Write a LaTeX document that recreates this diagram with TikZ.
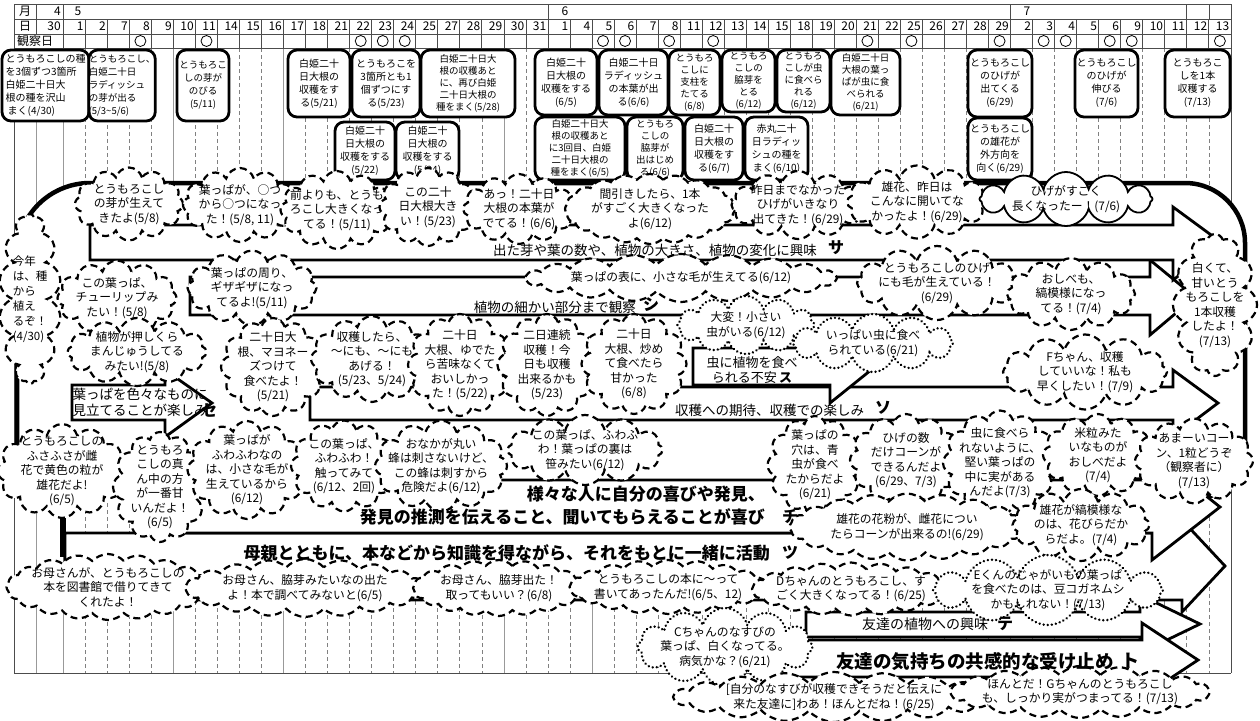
\documentclass[tikz,border=0pt]{standalone}
\usepackage{fontspec}
\setmainfont{Noto Sans CJK JP}
\usetikzlibrary{shapes.symbols}
\newcommand\mkcloud[7][cl]{\node[#1, minimum width={#5+10}, minimum height={#6+8}] (#2) at (#3,#4) {};\node[ctext] (#2t) at (#3,#4) {#7};}
\newcommand\mkbox[7][]{\node[hbox,#1, minimum width={#5-#3}, minimum height={#6-#4}] (#2) at ({(#3+#5)/2},{(#4+#6)/2}) {#7};}
\begin{document}
\begin{tikzpicture}[x=1pt,y=-1pt,
  hbox/.style={draw, line width=2.8pt, rounded corners=9pt, fill=white, inner sep=0pt, align=center, font=\fontsize{10}{13}\selectfont},
  small/.style={font=\fontsize{9.5}{12}\selectfont},
  cl/.style={cloud, cloud puffs=12, cloud ignores aspect, draw, fill=white, line width=2.2pt, dash pattern=on 7pt off 4.5pt, inner sep=0pt},
  wcl/.style={cl, cloud puffs=20, cloud puff arc=95},
  dotcl/.style={cl, dash pattern=on 0.1pt off 4pt, line cap=round, line width=2.6pt},
  solidcl/.style={cl, solid, line width=1.8pt},
  ctext/.style={align=center, inner sep=0pt, font=\fontsize{11.8}{14.5}\selectfont},
  arr/.style={draw, fill=white, line width=2.8pt, line join=miter},
  lab/.style={inner sep=0pt, font=\fontsize{13.5}{16}\selectfont},
  sym/.style={inner sep=0pt, font=\fontsize{16}{16}\selectfont\bfseries},
  blab/.style={inner sep=0pt, font=\fontsize{17}{24}\selectfont\bfseries},
  hd/.style={inner sep=0pt, font=\fontsize{12}{12}\selectfont},
  gridd/.style={black!50, line width=0.7pt, dash pattern=on 4pt off 3pt},
  grids/.style={black!40, line width=0.7pt},
  frame/.style={line width=4.5pt}
  ]
\useasboundingbox (0,0) rectangle (1260,720);
\fill[white] (0,0) rectangle (1260,720);
% ---------- table grid ----------
\foreach \k in {1,...,52}{\pgfmathsetmacro\xx{63.3+22.03*\k}\draw[gridd] (\xx,48) -- (\xx,673);}
\foreach \k in {0,5,10,20,24}{\pgfmathsetmacro\xx{63.3+22.03*\k}\draw[grids] (\xx,48) -- (\xx,673);}
\draw[grids] (36,48) -- (36,673);
\draw[black!70, line width=0.8pt] (14,4) -- (1231,4) (14,19) -- (1231,19) (14,34) -- (1231,34) (14,48) -- (1231,48) (14,673) -- (1231,673)
  (14,4) -- (14,673) (1231,4) -- (1231,673) (36,4) -- (36,34) (63.3,4) -- (63.3,48) (548,4) -- (548,19) (1010.6,4) -- (1010.6,19)
  (1186.8,4) -- (1186.8,19) (1208.9,4) -- (1208.9,19);
\foreach \k in {0,...,52}{\pgfmathsetmacro\xx{63.3+22.03*\k}\draw[black!70, line width=0.8pt] (\xx,19) -- (\xx,48);}
\node[hd] (m0) at (25,11.5) {月};
\node[hd, anchor=east] (m4) at (61,11.5) {4};
\node[hd] (m5) at (78,11.5) {5};
\node[hd] (m6) at (565,11.5) {6};
\node[hd] (m7) at (1027,11.5) {7};
\node[hd] (d0) at (25,26.5) {日};
\node[hd, anchor=east] (d30) at (61,26.5) {30};
\node[hd, anchor=west] (obs) at (17,41) {観察日};
\foreach \d [count=\i from 0] in {1,2,7,8,9,10,11,14,15,16,17,18,21,22,23,24,25,27,28,29,30,31,1,4,5,6,7,8,11,12,13,14,15,18,19,20,21,22,25,26,27,28,29,2,3,4,5,6,9,10,11,12,13}
  {\node[hd, anchor=east] (day\i) at ({63.3+22.03*(\i+1)-1.5},26.5) {\d};}
\foreach \k in {3,6,13,14,15,24,25,27,29,36,38,42,44,45,47,48,52}
  {\draw[line width=0.8pt] ({63.3+22.03*(\k+0.5)},41) circle[radius=5.5];}
% ---------- header boxes ----------
\mkbox[align=left]{b1}{2}{50}{89}{121}{とうもろこしの種\\を3個ずつ3箇所\\白姫二十日大\\根の種を沢山\\\ まく(4/30)}
\mkbox[align=left,font=\fontsize{9.5}{13}\selectfont]{b2}{89}{50}{155}{121}{とうもろこし、\\白姫二十日\\ラディッシュ\\の芽が出る\\(5/3\textasciitilde5/6)}
\mkbox[font=\fontsize{9.5}{13}\selectfont]{b3}{177}{50}{229}{121}{とうもろこ\\しの芽が\\のびる\\(5/11)}
\mkbox{b4}{288}{50}{350}{117}{白姫二十\\日大根の\\収穫をす\\る(5/21)}
\mkbox{b5}{352}{50}{420}{117}{とうもろこを\\3箇所とも1\\個ずつにす\\る(5/23)}
\mkbox[small]{b6}{421}{50}{515}{117}{白姫二十日大\\根の収穫あと\\に、再び白姫\\二十日大根の\\種をまく(5/28)}
\mkbox{b7}{335}{122}{395}{180}{白姫二十\\日大根の\\収穫をする\\(5/22)}
\mkbox{b8}{396}{122}{459}{180}{白姫二十\\日大根の\\収穫をする\\(5/24)}
\mkbox{b9}{535}{50}{597}{115}{白姫二十\\日大根の\\収穫をする\\(6/5)}
\mkbox{b10}{599}{50}{668}{115}{白姫二十日\\ラディッシュ\\の本葉が出\\る(6/6)}
\mkbox[small]{b11}{669}{50}{720}{115}{とうもろ\\こしに\\支柱を\\たてる\\(6/8)}
\mkbox[small]{b12}{722}{50}{775}{112}{とうもろ\\こしの\\脇芽を\\とる\\(6/12)}
\mkbox[small]{b13}{777}{50}{830}{112}{とうもろ\\こしが虫\\に食べら\\れる\\(6/12)}
\mkbox[small]{b14}{831}{50}{900}{115}{白姫二十日\\大根の葉っ\\ぱが虫に食\\べられる\\(6/21)}
\mkbox{b15}{968}{50}{1032}{117}{とうもろこし\\のひげが\\出てくる\\(6/29)}
\mkbox{b16}{1075}{50}{1138}{117}{とうもろこし\\のひげが\\伸びる\\(7/6)}
\mkbox{b17}{1165}{50}{1230}{117}{とうもろこ\\しを1本\\収穫する\\(7/13)}
\mkbox[small]{b18}{535}{117}{625}{180}{白姫二十日大\\根の収穫あと\\に3回目、白姫\\二十日大根の\\種をまく(6/5)}
\mkbox[small]{b19}{627}{117}{683}{180}{とうもろ\\こしの\\脇芽が\\出はじめ\\る(6/6)}
\mkbox{b20}{685}{117}{743}{180}{白姫二十\\日大根の\\収穫をす\\る(6/7)}
\mkbox{b21}{745}{117}{808}{180}{赤丸二十\\日ラディッ\\シュの種を\\まく(6/10)}
\mkbox{b22}{968}{118}{1032}{180}{とうもろこし\\の雄花が\\外方向を\\向く(6/29)}
% ---------- big frame ----------
\fill[white] (17,500) [rounded corners=73pt] -- (17,183) [rounded corners=60pt] -- (1245,183) [rounded corners=55pt] -- (1245,500) [sharp corners] -- cycle;
\draw[frame] (17,470) [rounded corners=73pt] -- (17,183) [rounded corners=60pt] -- (1245,183) [rounded corners=55pt] -- (1245,500) [sharp corners] -- (1195,500);
% ---------- arrows ----------
\draw[arr] (190,277) -- (1150,277) -- (1150,260) -- (1195,297) -- (1150,335) -- (1150,315) -- (190,315) -- cycle;
\draw[arr] (90,225) -- (1173,225) -- (1173,207) -- (1222,243) -- (1173,280) -- (1173,260) -- (90,260) -- cycle;
\draw[arr] (310,387) -- (1173,387) -- (1173,370) -- (1218,403) -- (1173,437) -- (1173,420) -- (310,420) -- cycle;
\draw[arr] (693,348) -- (830,348) -- (830,330) -- (876,366) -- (830,403) -- (830,385) -- (693,385) -- cycle;
\draw[arr] (72,385) -- (165,385) -- (165,370) -- (212,403) -- (165,437) -- (165,420) -- (72,420) -- cycle;
\draw[arr] (65,533) -- (1182,533) -- (1182,520) -- (1225,566) -- (1182,612) -- (1182,600) -- (65,600) -- cycle;
\draw[arr] (173,480) -- (1152,480) -- (1152,453) -- (1220,507) -- (1152,560) -- (1152,533) -- (173,533) -- cycle;
\draw[arr] (806,612) -- (1140,612) -- (1140,595) -- (1200,624) -- (1140,653) -- (1140,637) -- (806,637) -- cycle;
\draw[arr] (780,640) -- (1142,640) -- (1142,623) -- (1198,660) -- (1142,697) -- (1142,677) -- (780,677) -- cycle;
\draw[line width=6pt] (63,518) -- (63,557);
% ---------- clouds row A ----------
\mkcloud{a1}{129}{204}{98}{65}{とうもろこし\\の芽が生えて\\きたよ(5/8)}
\mkcloud{a2}{240}{205}{104}{66}{葉っぱが、○つ\\から○つになっ\\た！(5/8, 11)}
\mkcloud{a3}{337}{210}{103}{70}{前よりも、とうも\\ろこし大きくなっ\\てる！(5/11)}
\mkcloud{a4}{428}{207}{87}{70}{この二十\\日大根大き\\い！(5/23)}
\mkcloud{a5}{519}{209}{102}{62}{あっ！二十日\\大根の本葉が\\でてる！(6/6)}
\mkcloud[wcl]{a6}{650}{209}{160}{62}{間引きしたら、1本\\がすごく大きくなった\\よ(6/12)}
\mkcloud{a7}{798}{205}{123}{60}{昨日までなかった\\ひげがいきなり\\出てきた！(6/29)}
\mkcloud{a8}{917}{202}{130}{65}{雄花、昨日は\\こんなに開いてな\\かったよ！(6/29)}
\mkcloud[solidcl]{a9}{1066}{199}{163}{46}{ひげがすごく\\長くなったー！(7/6)}
% ---------- side clouds ----------
\node[cl, minimum width=62, minimum height=170, cloud puffs=14] (l1) at (30,299) {};
\node[ctext, align=left, font=\fontsize{11.5}{15}\selectfont] (l1t) at (30,299) {今年\\は、種\\から\\植え\\るぞ！\\(4/30)};
\mkcloud{r1}{1215}{305}{74}{134}{白くて、\\甘いとう\\もろこしを\\1本収穫\\したよ！\\(7/13)}
% ---------- row B ----------
\mkcloud{bb1}{117}{298}{109}{67}{この葉っぱ、\\チューリップみ\\たい！(5/8)}
\mkcloud{bb2}{252}{288}{119}{67}{葉っぱの周り、\\ギザギザになっ\\てるよ!(5/11)}
\mkcloud[wcl]{bb3}{681}{278}{302}{40}{葉っぱの表に、小さな毛が生えてる(6/12)}
\mkcloud{bb4}{937}{283}{150}{66}{とうもろこしのひげ\\にも毛が生えている！\\(6/29)}
\mkcloud{bb5}{1071}{294}{118}{64}{おしべも、\\縞模様になっ\\てる！(7/4)}
% ---------- row C ----------
\mkcloud{c1}{137}{352}{129}{60}{植物が押しくら\\まんじゅうしてる\\みたい!(5/8)}
\mkcloud{c2}{273}{367}{94}{90}{二十日大\\根、マヨネー\\ズつけて\\食べたよ！\\(5/21)}
\mkcloud{c3}{372}{359}{112}{78}{収穫したら、\\〜にも、〜にも\\あげる！\\(5/23、5/24)}
\mkcloud{c4}{460}{365}{94}{94}{二十日\\大根、ゆでた\\ら苦味なくて\\おいしかっ\\た！(5/22)}
\mkcloud{c5}{547}{365}{89}{94}{二日連続\\収穫！今\\日も収穫\\出来るかも\\(5/23)}
\mkcloud{c6}{634}{364}{95}{92}{二十日\\大根、炒め\\て食べたら\\甘かった\\(6/8)}
\mkcloud[dotcl]{c7}{746}{325}{127}{50}{大変！小さい\\虫がいる(6/12)}
\mkcloud[dotcl]{c8}{873}{343}{150}{50}{いっぱい虫に食べ\\られている(6/21)}
\mkcloud{c9}{1085}{372}{154}{67}{Fちゃん、収穫\\していいな！私も\\早くしたい！(7/9)}
% ---------- row D ----------
\mkcloud{d1}{62}{471}{119}{86}{とうもろこしの\\ふさふさが雌\\花で黄色の粒が\\雄花だよ!\\(6/5)}
\mkcloud{d2}{160}{487}{84}{102}{とうもろ\\こしの真\\ん中の方\\が一番甘\\いんだよ！\\(6/5)}
\mkcloud{d3}{247}{470}{109}{90}{葉っぱが\\ふわふわなの\\は、小さな毛が\\生えているから\\(6/12)}
\mkcloud{d4}{344}{466}{96}{83}{この葉っぱ、\\ふわふわ！\\触ってみて\\(6/12、2回)}
\mkcloud{d5}{441}{466}{122}{83}{おなかが丸い\\蜂は刺さないけど、\\この蜂は刺すから\\危険だよ(6/12)}
\mkcloud{d6}{585}{450}{145}{62}{この葉っぱ、ふわふ\\わ！葉っぱの裏は\\笹みたい(6/12)}
\mkcloud{d7}{815}{465}{85}{90}{葉っぱの\\穴は、青\\虫が食べ\\たからだよ\\(6/21)}
\mkcloud{d8}{906}{460}{102}{84}{ひげの数\\だけコーンが\\できるんだよ\\(6/29、7/3)}
\mkcloud{d9}{1000}{463}{104}{97}{虫に食べら\\れないように、\\堅い葉っぱの\\中に実がある\\んだよ(7/3)}
\mkcloud{d10}{1098}{455}{100}{74}{米粒みた\\いなものが\\おしべだよ\\(7/4)}
\mkcloud{d11}{1194}{461}{108}{77}{あまーいコー\\ン、1粒どうぞ\\（観察者に）\\(7/13)}
\mkcloud[wcl]{d12}{907}{527}{225}{59}{雄花の花粉が、雌花につい\\たらコーンが出来るの!(6/29)}
\mkcloud{d13}{1081}{525}{127}{64}{雄花が縞模様な\\のは、花びらだか\\らだよ。(7/4)}
% ---------- row E ----------
\mkcloud[wcl]{e1}{108}{587}{193}{58}{お母さんが、とうもろこしの\\本を図書館で借りてきて\\くれたよ！}
\mkcloud[wcl]{e2}{305}{588}{230}{50}{お母さん、脇芽みたいなの出た\\よ！本で調べてみないと(6/5)}
\mkcloud[wcl]{e3}{499}{588}{162}{48}{お母さん、脇芽出た！\\取ってもいい？(6/8)}
\mkcloud[wcl]{e4}{668}{587}{187}{46}{とうもろこしの本に〜って\\書いてあったんだ!(6/5、12)}
\mkcloud[wcl]{e5}{851}{589}{188}{45}{Dちゃんのとうもろこし、す\\ごく大きくなってる！(6/25)}
\mkcloud[dotcl]{e6}{1048}{590}{220}{62}{Eくんのじゃがいもの葉っぱ\\を食べたのは、豆コガネムシ\\かもしれない！(7/13)}
\mkcloud[dotcl]{e7}{725}{647}{165}{70}{Cちゃんのなすびの\\葉っぱ、白くなってる。\\病気かな？(6/21)}
% ---------- row F ----------
\mkcloud[wcl]{f1}{834}{697}{312}{42}{[自分のなすびが収穫できそうだと伝えに\\来た友達に]わあ！ほんとだね！(6/25)}
\mkcloud[wcl]{f2}{1080}{692}{250}{44}{ほんとだ！Gちゃんのとうもろこし\\も、しっかり実がつまってる！(7/13)}
% ---------- arrow labels (on top) ----------
\node[lab, anchor=east] (lsa) at (817,250) {出た芽や葉の数や、植物の大きさ、植物の変化に興味};
\node[sym] (ssa) at (836,248) {サ};
\node[lab, anchor=east] (lsi) at (636,307) {植物の細かい部分まで観察};
\node[sym] (ssi) at (651,305) {シ};
\node[lab, align=center, font=\fontsize{13}{15}\selectfont] (lsu) at (752,370) {虫に植物を食べ\\られる不安\,{\bfseries ス}};
\node[lab, align=left] (lse) at (140,402) {葉っぱを色々なものに\\見立てることが楽しみ};
\node[sym] (sse) at (209,411) {セ};
\node[lab, anchor=west] (lso) at (675,410) {収穫への期待、収穫での楽しみ};
\node[sym] (sso) at (883,408) {ソ};
\node[blab, anchor=east] (lchi1) at (765,494) {様々な人に自分の喜びや発見、};
\node[blab, anchor=east] (lchi2) at (765,517) {発見の推測を伝えること、聞いてもらえることが喜び};
\node[sym] (schi) at (790,517) {チ};
\node[blab, anchor=east] (ltsu) at (770,553) {母親とともに、本などから知識を得ながら、それをもとに一緒に活動};
\node[sym] (stsu) at (790,553) {ツ};
\node[lab, anchor=west, font=\fontsize{14}{16}\selectfont] (lte) at (862,624) {友達の植物への興味};
\node[sym] (ste) at (1005,624) {テ};
\node[blab, anchor=west, font=\fontsize{18.5}{20}\selectfont\bfseries] (lto) at (836,662) {友達の気持ちの共感的な受け止め};
\node[sym, font=\fontsize{18}{18}\selectfont\bfseries] (sto) at (1130,661) {ト};
\end{tikzpicture}
\end{document}
